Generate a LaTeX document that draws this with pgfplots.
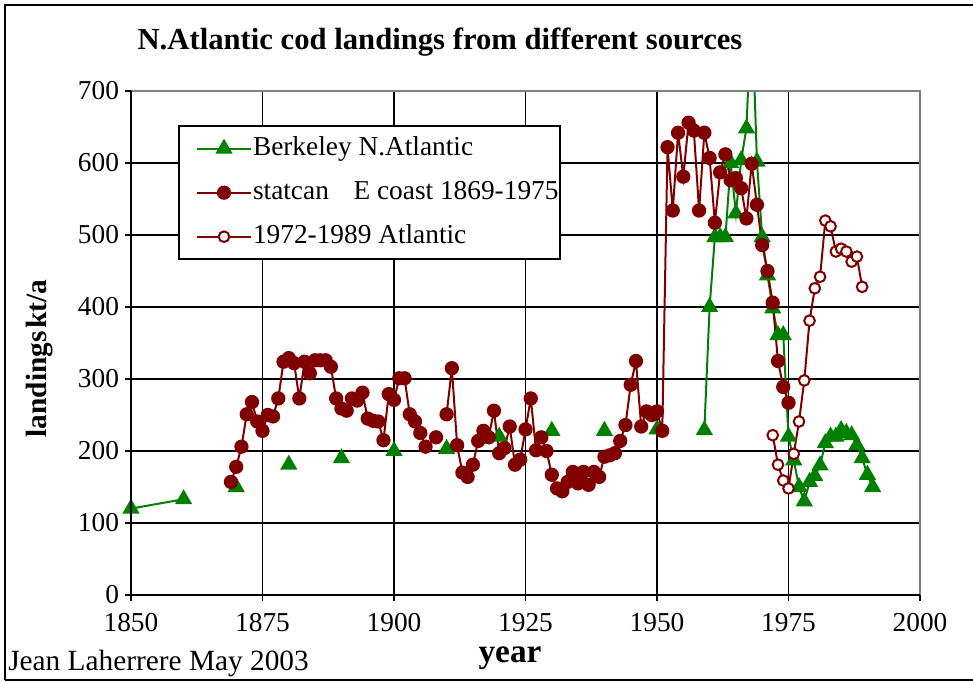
\documentclass[border=0pt]{standalone}
\usepackage{fontspec}
\setmainfont{Liberation Serif}
\usepackage{pgfplots}
\pgfplotsset{compat=1.18}
\definecolor{cgreen}{RGB}{0,128,0}
\definecolor{cred}{RGB}{128,0,0}
\definecolor{cgray}{RGB}{128,128,128}
\begin{document}
\begin{tikzpicture}
\useasboundingbox (0,0) rectangle (729.75pt,510.75pt);
\draw[line width=1.5pt] (3.75pt,0.75pt) -- (3.75pt,507pt) -- (729.75pt,507pt);
\draw[line width=1.5pt] (3.75pt,0.75pt) -- (729.75pt,0.75pt);
\begin{axis}[
  name=ax,
  at={(98.25pt,64.5pt)}, anchor=south west,
  width=591.75pt, height=378pt, scale only axis,
  xmin=1850, xmax=2000, ymin=0, ymax=700,
  xtick={1850,1875,...,2000}, ytick={0,100,...,700},
  /pgf/number format/assume math mode=true,
  xticklabel style={/pgf/number format/1000 sep={}, yshift=-6pt},
  yticklabel style={xshift=-1pt},
  ticklabel style={font=\fontsize{20.5}{24}\selectfont},
  tick pos=left, tick align=outside, major tick length=4.5pt,
  tick style={black, line width=1.2pt},
  axis line style={draw=none},
  grid=major, major grid style={black, line width=1.1pt},
  unbounded coords=jump,
  legend style={at={(rel axis cs:0.0596,0.9325)}, anchor=north west,
    draw=black, line width=1.5pt, fill=white,
    font=\fontsize{20.5}{24}\selectfont,
    inner xsep=0pt, inner ysep=7pt,
    row sep=13pt,
    nodes={inner xsep=1pt, inner ysep=1pt, text height=14pt, text depth=4pt}},
  legend cell align=left,
  legend image code/.code={\path (0pt,0pt); \draw[mark repeat=2,mark phase=2] plot coordinates {(13pt,0pt) (33pt,0pt) (53pt,0pt)};},
]
\addplot[cgreen, line width=1.5pt, mark=triangle*, mark size=6pt, mark options={solid, fill=cgreen}] coordinates {
(1850,120) (1860,133) (1861,nan) (1870,150) (1871,nan) (1880,181) (1881,nan) (1890,190) (1891,nan)
(1900,200) (1901,nan) (1910,203) (1911,nan) (1920,220) (1921,nan) (1930,228) (1931,nan)
(1940,228) (1941,nan) (1950,230) (1951,nan)
(1959,229) (1960,400) (1961,497) (1962,497) (1963,497) (1964,600) (1965,530) (1966,604) (1967,648)
(1968,820) (1969,602) (1970,497) (1971,444) (1972,398) (1973,361) (1974,361) (1975,220)
(1976,187) (1977,150) (1978,130) (1979,157) (1980,165) (1981,180) (1982,211) (1983,220)
(1984,220) (1985,229) (1986,225) (1987,222) (1988,208) (1989,190) (1990,167) (1991,150)
};
\addlegendentry{Berkeley N.Atlantic}
\addplot[cred, line width=1.5pt, mark=*, mark size=4.6pt, mark options={solid, fill=cred}] coordinates {
(1869,157) (1870,178) (1871,206) (1872,251) (1873,268) (1874,241) (1875,228) (1876,250)
(1877,248) (1878,273) (1879,324) (1880,329) (1881,322) (1882,273) (1883,324) (1884,308)
(1885,326) (1886,326) (1887,326) (1888,317) (1889,273) (1890,259) (1891,256) (1892,273)
(1893,270) (1894,281) (1895,245) (1896,242) (1897,241) (1898,215) (1899,279) (1900,271)
(1901,301) (1902,301) (1903,251) (1904,241) (1905,225) (1906,206) (1907,nan) (1908,219)
(1909,nan) (1910,251) (1911,315) (1912,208) (1913,170) (1914,164) (1915,181) (1916,214)
(1917,228) (1918,219) (1919,256) (1920,197) (1921,204) (1922,234) (1923,181) (1924,188)
(1925,230) (1926,273) (1927,201) (1928,219) (1929,200) (1930,167) (1931,148) (1932,144)
(1933,157) (1934,171) (1935,155) (1936,171) (1937,153) (1938,171) (1939,164) (1940,192)
(1941,194) (1942,197) (1943,214) (1944,236) (1945,292) (1946,325) (1947,234) (1948,255)
(1949,250) (1950,255) (1951,228) (1952,622) (1953,534) (1954,642) (1955,581) (1956,656)
(1957,645) (1958,534) (1959,642) (1960,607) (1961,517) (1962,587) (1963,612) (1964,576)
(1965,579) (1966,565) (1967,523) (1968,599) (1969,542) (1970,486) (1971,450) (1972,406)
(1973,325) (1974,289) (1975,267)
};
\addlegendentry{statcan\hspace{0.9em}E coast 1869-1975}
\addplot[cred, line width=1.5pt, mark=*, mark size=4pt, mark options={solid, fill=white, line width=1.5pt}] coordinates {
(1972,222) (1973,181) (1974,159) (1975,148) (1976,196) (1977,241) (1978,298) (1979,381)
(1980,426) (1981,442) (1982,520) (1983,512) (1984,477) (1985,481) (1986,477) (1987,463)
(1988,470) (1989,428)
};
\addlegendentry{1972-1989 Atlantic}
\end{axis}
\draw[cgray, line width=2pt] (ax.north west) -- (ax.north east) -- (ax.south east);
\draw[black, line width=2pt] (ax.north west) -- (ax.south west) -- (ax.south east);
\node at (330pt,479.25pt) {\fontsize{23}{27}\selectfont\bfseries N.Atlantic cod landings from different sources};
\node[rotate=90] at (30pt,242pt) {\fontsize{22}{26}\selectfont\bfseries landings\hspace{0.1em}kt/a};
\node at (382.5pt,17pt) {\fontsize{25}{29}\selectfont\bfseries year};
\node[anchor=west, inner sep=0pt] at (6pt,13.5pt) {\fontsize{22}{26}\selectfont Jean Laherrere May 2003};
\end{tikzpicture}
\end{document}
